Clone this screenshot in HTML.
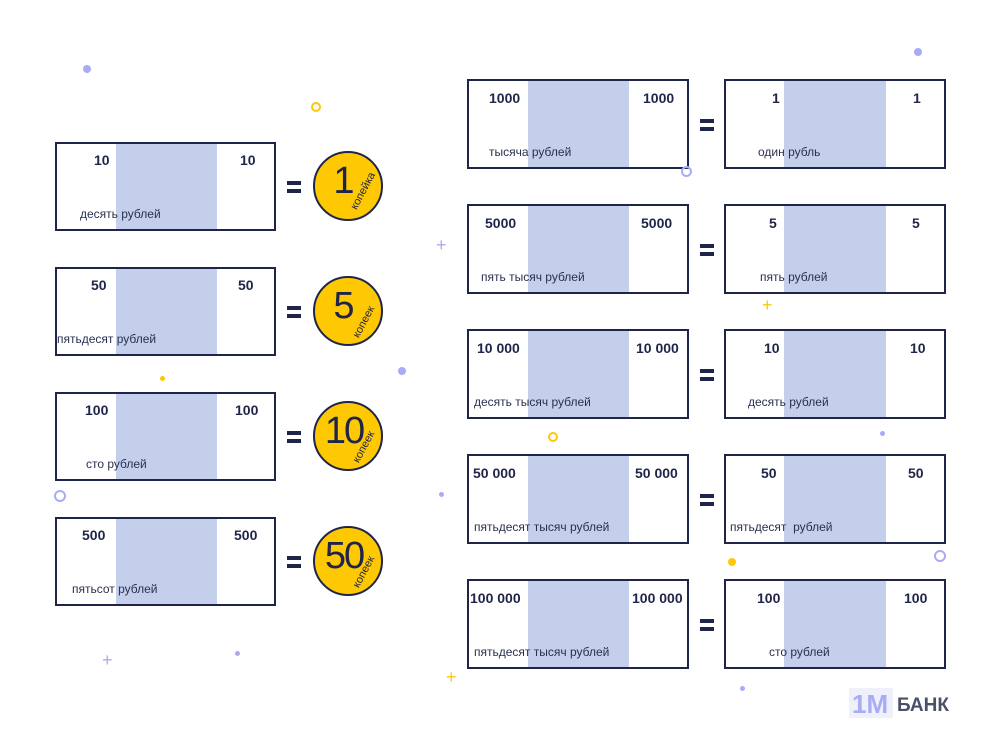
<!DOCTYPE html>
<html><head><meta charset="utf-8"><style>
body{margin:0;width:1000px;height:747px;background:#fff;position:relative;overflow:hidden;font-family:"Liberation Sans",sans-serif;color:#1e2549}
.n{position:absolute;box-sizing:border-box;border:2px solid #1e2549;background:#fff}
.s{position:absolute;top:0;bottom:0;background:#c4cfec}
.t{position:absolute;font-size:14px;font-weight:bold;line-height:14px;white-space:nowrap}
.l{position:absolute;font-size:12px;line-height:12px;white-space:nowrap;color:#2a3050}
.eq{position:absolute;width:14px;height:12px}
.eq:before,.eq:after{content:"";position:absolute;left:0;width:14px;height:4px;background:#1e2549}
.eq:before{top:0}.eq:after{bottom:0}
.c{position:absolute;width:70px;height:70px;border-radius:50%;background:#fec803;border:2px solid #1e2549;box-sizing:border-box}
.c b{position:absolute;left:0;right:8px;top:8px;text-align:center;font-size:38px;font-weight:normal;line-height:40px}
.c i{position:absolute;font-style:normal;font-size:11px;transform:rotate(-62deg);left:32px;top:38px}
.d{position:absolute;border-radius:50%}
.o{position:absolute;border-radius:50%;box-sizing:border-box}
.sp{position:absolute;font-size:18px;line-height:18px}
</style></head><body>

<div class="n" style="left:55px;top:142px;width:221px;height:89px"><div class="s" style="left:59px;width:101px"></div></div>
<div class="t" style="left:94px;top:153px">10</div><div class="t" style="left:240px;top:153px">10</div>
<div class="l" style="left:80px;top:208px">десять рублей</div>
<div class="eq" style="left:287px;top:181px"></div>
<div class="c" style="left:313px;top:151px"><b>1</b><i style="left:28px;top:32px">копейка</i></div>

<div class="n" style="left:55px;top:267px;width:221px;height:89px"><div class="s" style="left:59px;width:101px"></div></div>
<div class="t" style="left:91px;top:278px">50</div><div class="t" style="left:238px;top:278px">50</div>
<div class="l" style="left:57px;top:333px">пятьдесят рублей</div>
<div class="eq" style="left:287px;top:306px"></div>
<div class="c" style="left:313px;top:276px"><b>5</b><i>копеек</i></div>

<div class="n" style="left:55px;top:392px;width:221px;height:89px"><div class="s" style="left:59px;width:101px"></div></div>
<div class="t" style="left:85px;top:403px">100</div><div class="t" style="left:235px;top:403px">100</div>
<div class="l" style="left:86px;top:458px">сто рублей</div>
<div class="eq" style="left:287px;top:431px"></div>
<div class="c" style="left:313px;top:401px"><b style="letter-spacing:-2px">10</b><i>копеек</i></div>

<div class="n" style="left:55px;top:517px;width:221px;height:89px"><div class="s" style="left:59px;width:101px"></div></div>
<div class="t" style="left:82px;top:528px">500</div><div class="t" style="left:234px;top:528px">500</div>
<div class="l" style="left:72px;top:583px">пятьсот рублей</div>
<div class="eq" style="left:287px;top:556px"></div>
<div class="c" style="left:313px;top:526px"><b style="letter-spacing:-2px">50</b><i>копеек</i></div>

<div class="n" style="left:467px;top:79px;width:222px;height:90px"><div class="s" style="left:59px;width:101px"></div></div>
<div class="t" style="left:489px;top:91px">1000</div><div class="t" style="left:643px;top:91px">1000</div>
<div class="l" style="left:489px;top:146px">тысяча рублей</div>
<div class="eq" style="left:700px;top:119px"></div>
<div class="n" style="left:724px;top:79px;width:222px;height:90px"><div class="s" style="left:58px;width:102px"></div></div>
<div class="t" style="left:772px;top:91px">1</div><div class="t" style="left:913px;top:91px">1</div>
<div class="l" style="left:758px;top:146px">один рубль</div>

<div class="n" style="left:467px;top:204px;width:222px;height:90px"><div class="s" style="left:59px;width:101px"></div></div>
<div class="t" style="left:485px;top:216px">5000</div><div class="t" style="left:641px;top:216px">5000</div>
<div class="l" style="left:481px;top:271px">пять тысяч рублей</div>
<div class="eq" style="left:700px;top:244px"></div>
<div class="n" style="left:724px;top:204px;width:222px;height:90px"><div class="s" style="left:58px;width:102px"></div></div>
<div class="t" style="left:769px;top:216px">5</div><div class="t" style="left:912px;top:216px">5</div>
<div class="l" style="left:760px;top:271px">пять рублей</div>

<div class="n" style="left:467px;top:329px;width:222px;height:90px"><div class="s" style="left:59px;width:101px"></div></div>
<div class="t" style="left:477px;top:341px">10 000</div><div class="t" style="left:636px;top:341px">10 000</div>
<div class="l" style="left:474px;top:396px">десять тысяч рублей</div>
<div class="eq" style="left:700px;top:369px"></div>
<div class="n" style="left:724px;top:329px;width:222px;height:90px"><div class="s" style="left:58px;width:102px"></div></div>
<div class="t" style="left:764px;top:341px">10</div><div class="t" style="left:910px;top:341px">10</div>
<div class="l" style="left:748px;top:396px">десять рублей</div>

<div class="n" style="left:467px;top:454px;width:222px;height:90px"><div class="s" style="left:59px;width:101px"></div></div>
<div class="t" style="left:473px;top:466px">50 000</div><div class="t" style="left:635px;top:466px">50 000</div>
<div class="l" style="left:474px;top:521px">пятьдесят тысяч рублей</div>
<div class="eq" style="left:700px;top:494px"></div>
<div class="n" style="left:724px;top:454px;width:222px;height:90px"><div class="s" style="left:58px;width:102px"></div></div>
<div class="t" style="left:761px;top:466px">50</div><div class="t" style="left:908px;top:466px">50</div>
<div class="l" style="left:730px;top:521px">пятьдесят&nbsp; рублей</div>

<div class="n" style="left:467px;top:579px;width:222px;height:90px"><div class="s" style="left:59px;width:101px"></div></div>
<div class="t" style="left:470px;top:591px">100 000</div><div class="t" style="left:632px;top:591px">100 000</div>
<div class="l" style="left:474px;top:646px">пятьдесят тысяч рублей</div>
<div class="eq" style="left:700px;top:619px"></div>
<div class="n" style="left:724px;top:579px;width:222px;height:90px"><div class="s" style="left:58px;width:102px"></div></div>
<div class="t" style="left:757px;top:591px">100</div><div class="t" style="left:904px;top:591px">100</div>
<div class="l" style="left:769px;top:646px">сто рублей</div>

<div class="d" style="left:83px;top:65px;width:8px;height:8px;background:#a9abf5"></div>
<div class="d" style="left:914px;top:48px;width:8px;height:8px;background:#a9abf5"></div>
<div class="d" style="left:398px;top:367px;width:8px;height:8px;background:#a9abf5"></div>
<div class="d" style="left:439px;top:492px;width:5px;height:5px;background:#a9abf5"></div>
<div class="d" style="left:880px;top:431px;width:5px;height:5px;background:#a9abf5"></div>
<div class="d" style="left:235px;top:651px;width:5px;height:5px;background:#a9abf5"></div>
<div class="d" style="left:740px;top:686px;width:5px;height:5px;background:#a9abf5"></div>
<div class="d" style="left:160px;top:376px;width:5px;height:5px;background:#fec803"></div>
<div class="d" style="left:728px;top:558px;width:8px;height:8px;background:#fec803"></div>
<div class="o" style="left:54px;top:490px;width:12px;height:12px;border:2px solid #a9abf5"></div>
<div class="o" style="left:934px;top:550px;width:12px;height:12px;border:2px solid #a9abf5"></div>
<div class="o" style="left:681px;top:166px;width:11px;height:11px;border:2px solid #a9abf5"></div>
<div class="o" style="left:311px;top:102px;width:10px;height:10px;border:2px solid #fec803"></div>
<div class="o" style="left:548px;top:432px;width:10px;height:10px;border:2px solid #fec803"></div>
<div class="sp" style="left:436px;top:236px;color:#a9abf5">+</div>
<div class="sp" style="left:762px;top:296px;color:#fec803">+</div>
<div class="sp" style="left:102px;top:651px;color:#a9abf5">+</div>
<div class="sp" style="left:446px;top:668px;color:#fec803">+</div>

<div style="position:absolute;left:849px;top:688px;width:44px;height:30px;background:#eef0fc"></div>
<div style="position:absolute;left:852px;top:690px;font-size:26px;font-weight:bold;color:#a9abf5;line-height:28px">1M</div>
<div style="position:absolute;left:897px;top:695px;font-size:19px;font-weight:bold;color:#4a5068;line-height:22px">БАНК</div>
</body></html>
